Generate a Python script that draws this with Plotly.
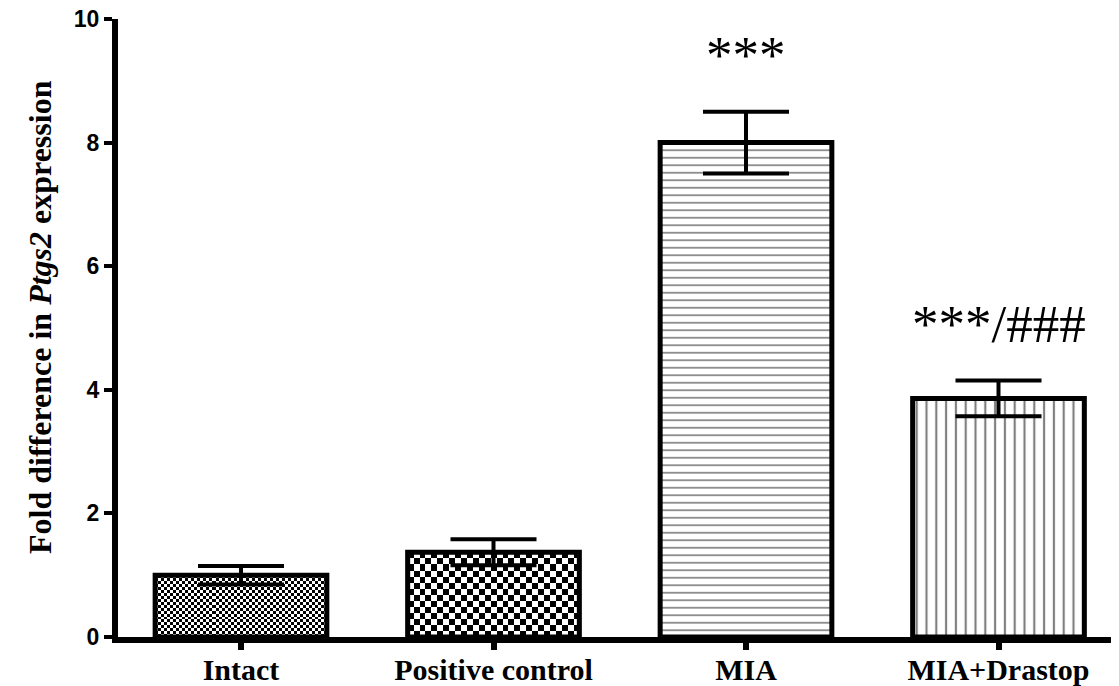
import numpy as np
import plotly.graph_objects as go

# ---- data ----
categories = ["Intact", "Positive control", "MIA", "MIA+Drastop"]
means = [1.00, 1.37, 8.00, 3.86]
sems = [0.15, 0.21, 0.50, 0.29]
sig_labels = ["", "", "***", "***/###"]
y_ticks = [0, 2, 4, 6, 8, 10]
y_title = "Fold difference in <i>Ptgs2</i> expression"

# ---- style ----
BAR_W = 0.68
PX_PER_X = 252.5
BODY = 8                                 # default page body margin
PLOT_L, PLOT_T, PLOT_B = 118, 19, 637    # page coordinates of plot area
PX_PER_Y = (PLOT_B - PLOT_T) / 10
checker_px = {0: 3.0, 1: 6.0}            # checkerboard square size (px) for textured bars
LABEL_GAP = 0.42

SERIF = "Liberation Serif, Times New Roman, serif"
SANS = "Liberation Sans, Arial, sans-serif"

FIG_W, FIG_H = 1119 - BODY, 686 - BODY

fig = go.Figure()
xs = list(range(len(categories)))

# checkerboard textures (drawn beneath the bar outlines)
for i, px in checker_px.items():
    x0, x1 = xs[i] - BAR_W / 2, xs[i] + BAR_W / 2
    nx = max(2, int(round(BAR_W * PX_PER_X / px)))
    ny = max(2, int(round(means[i] * PX_PER_Y / px)))
    xe = np.linspace(x0, x1, nx + 1)
    ye = np.linspace(0, means[i], ny + 1)
    z = (np.add.outer(np.arange(ny), np.arange(nx)) % 2).astype(float)
    fig.add_trace(go.Heatmap(x=xe, y=ye, z=z, zsmooth=False, showscale=False,
                             colorscale=[[0, "white"], [1, "black"]],
                             zmin=0, zmax=1, hoverinfo="skip"))

patterns = [dict(shape=""), dict(shape=""),
            dict(shape="-", size=7.5, solidity=0.22, fgcolor="black", bgcolor="white"),
            dict(shape="|", size=9.8, solidity=0.22, fgcolor="black", bgcolor="white")]
colors = ["rgba(0,0,0,0)", "rgba(0,0,0,0)", "white", "white"]

for i in xs:
    fig.add_trace(go.Bar(
        x=[xs[i]], y=[means[i]], width=BAR_W,
        marker=dict(color=colors[i], pattern=patterns[i],
                    line=dict(color="black", width=5)),
        error_y=dict(type="data", array=[sems[i]], visible=True,
                     color="black", thickness=4, width=43),
        showlegend=False, hoverinfo="skip"))

# significance labels
for i, lab in enumerate(sig_labels):
    if lab:
        fig.add_annotation(x=xs[i], y=means[i] + sems[i] + LABEL_GAP, text=lab,
                           showarrow=False, yanchor="bottom", xanchor="center",
                           font=dict(family=SERIF, size=53, color="black"))

# y-axis title (as rotated text so it can be placed precisely)
plot_w = 1119 - PLOT_L
plot_h = PLOT_B - PLOT_T
fig.add_annotation(xref="paper", yref="paper",
                   x=(40 - PLOT_L) / plot_w, y=(PLOT_B - 317) / plot_h,
                   xanchor="center", yanchor="middle", textangle=-90,
                   text=y_title, showarrow=False,
                   font=dict(family=SERIF, size=32, color="black", weight="bold"))

x_lo = -(241 - PLOT_L) / PX_PER_X
x_hi = x_lo + (1119 - PLOT_L) / PX_PER_X

fig.update_layout(
    width=FIG_W, height=FIG_H,
    margin=dict(l=PLOT_L - BODY, r=0, t=PLOT_T - BODY, b=FIG_H - (PLOT_B - BODY)),
    paper_bgcolor="white", plot_bgcolor="white",
    barmode="overlay",
    xaxis=dict(range=[x_lo, x_hi], tickvals=xs, ticktext=categories,
               showline=True, linecolor="black", linewidth=6,
               ticks="outside", ticklen=7, tickwidth=6, tickcolor="black",
               showgrid=False, zeroline=False, automargin=False,
               ticklabelstandoff=-6, ticklabeloverflow="allow",
               tickfont=dict(family=SERIF, size=30, color="black", weight="bold")),
    yaxis=dict(range=[0, 10], tickvals=y_ticks,
               showline=True, linecolor="black", linewidth=6,
               ticks="outside", ticklen=8, tickwidth=4, tickcolor="black",
               showgrid=False, zeroline=False, automargin=False,
               ticklabeloverflow="allow",
               tickfont=dict(family=SANS, size=23, color="black", weight="bold")),
)

fig.write_html("out.html")
